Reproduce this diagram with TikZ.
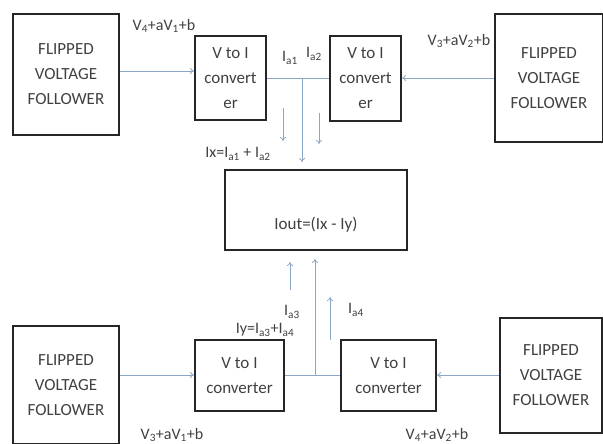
\documentclass[tikz,border=0pt]{standalone}
\usepackage{fontspec}
\setmainfont{Carlito}
\usetikzlibrary{arrows.meta}
\definecolor{conn}{HTML}{8CA6C6}
\definecolor{txt}{HTML}{404040}
\tikzset{
  blk/.style={draw=black!85, line width=1.8pt, inner sep=0pt, align=center, text=txt,
     font=\fontsize{17}{25}\selectfont},
  wire/.style={draw=conn, line width=0.8pt},
  arr/.style={wire, -{To[length=4pt,width=6pt]}},
  lab/.style={text=txt, inner sep=0pt, font=\fontsize{16}{18}\selectfont},
}
\begin{document}
\begin{tikzpicture}[x=1pt,y=-1pt]
\useasboundingbox (0,0) rectangle (603,444);
% blocks
\node[blk, minimum width=106pt, minimum height=121pt] (fvf1) at (66,74.5) {FLIPPED\\VOLTAGE\\FOLLOWER};
\node[blk, minimum width=71pt, minimum height=84pt] (vi1) at (230.5,78) {V to I\\convert\\er};
\node[blk, minimum width=71pt, minimum height=85pt] (vi2) at (365.5,78.5) {V to I\\convert\\er};
\node[blk, minimum width=108pt, minimum height=128pt] (fvf2) at (549,78) {FLIPPED\\VOLTAGE\\FOLLOWER};
\node[blk, minimum width=182pt, minimum height=80pt] (out) at (316,210) {};
\node[lab, font=\fontsize{17}{20}\selectfont] (outtxt) at (316,225) {Iout=(Ix - Iy)};
\node[blk, minimum width=106pt, minimum height=118pt] (fvf3) at (66,385) {FLIPPED\\VOLTAGE\\FOLLOWER};
\node[blk, minimum width=89pt, minimum height=71pt] (vi3) at (239.5,375.5) {V to I\\converter};
\node[blk, minimum width=95pt, minimum height=71pt] (vi4) at (388.5,375.5) {V to I\\converter};
\node[blk, minimum width=102pt, minimum height=115pt] (fvf4) at (551,375.5) {FLIPPED\\VOLTAGE\\FOLLOWER};
% top connectors
\draw[arr] (fvf1.east |- 0,71) -- (vi1.west |- 0,71);
\draw[arr] (fvf2.west |- 0,78) -- (vi2.east |- 0,78);
\draw[wire] (vi1.east |- 0,78) -- (vi2.west |- 0,78);
\coordinate (j1) at (302,78);
\draw[arr] (j1) -- ([yshift=7pt]j1 |- out.north);
\coordinate (s1a) at (283,108); \coordinate (s1b) at (283,141);
\coordinate (s2a) at (319,113); \coordinate (s2b) at (319,144);
\draw[arr] (s1a) -- (s1b);
\draw[arr] (s2a) -- (s2b);
% bottom connectors
\draw[arr] (fvf3.east |- 0,375) -- (vi3.west |- 0,375);
\draw[arr] (fvf4.west |- 0,375) -- (vi4.east |- 0,375);
\draw[wire] (vi3.east |- 0,375) -- (vi4.west |- 0,375);
\coordinate (j2) at (315,375);
\draw[arr] (j2) -- ([yshift=-8pt]j2 |- out.south);
\coordinate (s3a) at (290,290); \coordinate (s3b) at (290,262);
\coordinate (s4a) at (330,340); \coordinate (s4b) at (330,297);
\draw[arr] (s3a) -- (s3b);
\draw[arr] (s4a) -- (s4b);
% labels
\node[lab] (l1) at (164,26) {V\textsubscript{4}+aV\textsubscript{1}+b};
\node[lab] (l2) at (459,41) {V\textsubscript{3}+aV\textsubscript{2}+b};
\node[lab] (l3) at (290,58) {I\textsubscript{a1}};
\node[lab] (l4) at (314,54) {I\textsubscript{a2}};
\node[lab] (l5) at (238,154) {Ix=I\textsubscript{a1} + I\textsubscript{a2}};
\node[lab] (l6) at (292,312) {I\textsubscript{a3}};
\node[lab] (l7) at (356,310) {I\textsubscript{a4}};
\node[lab] (l8) at (265,330) {Iy=I\textsubscript{a3}+I\textsubscript{a4}};
\node[lab] (l9) at (172,435) {V\textsubscript{3}+aV\textsubscript{1}+b};
\node[lab] (l10) at (437,435) {V\textsubscript{4}+aV\textsubscript{2}+b};
\end{tikzpicture}
\end{document}
